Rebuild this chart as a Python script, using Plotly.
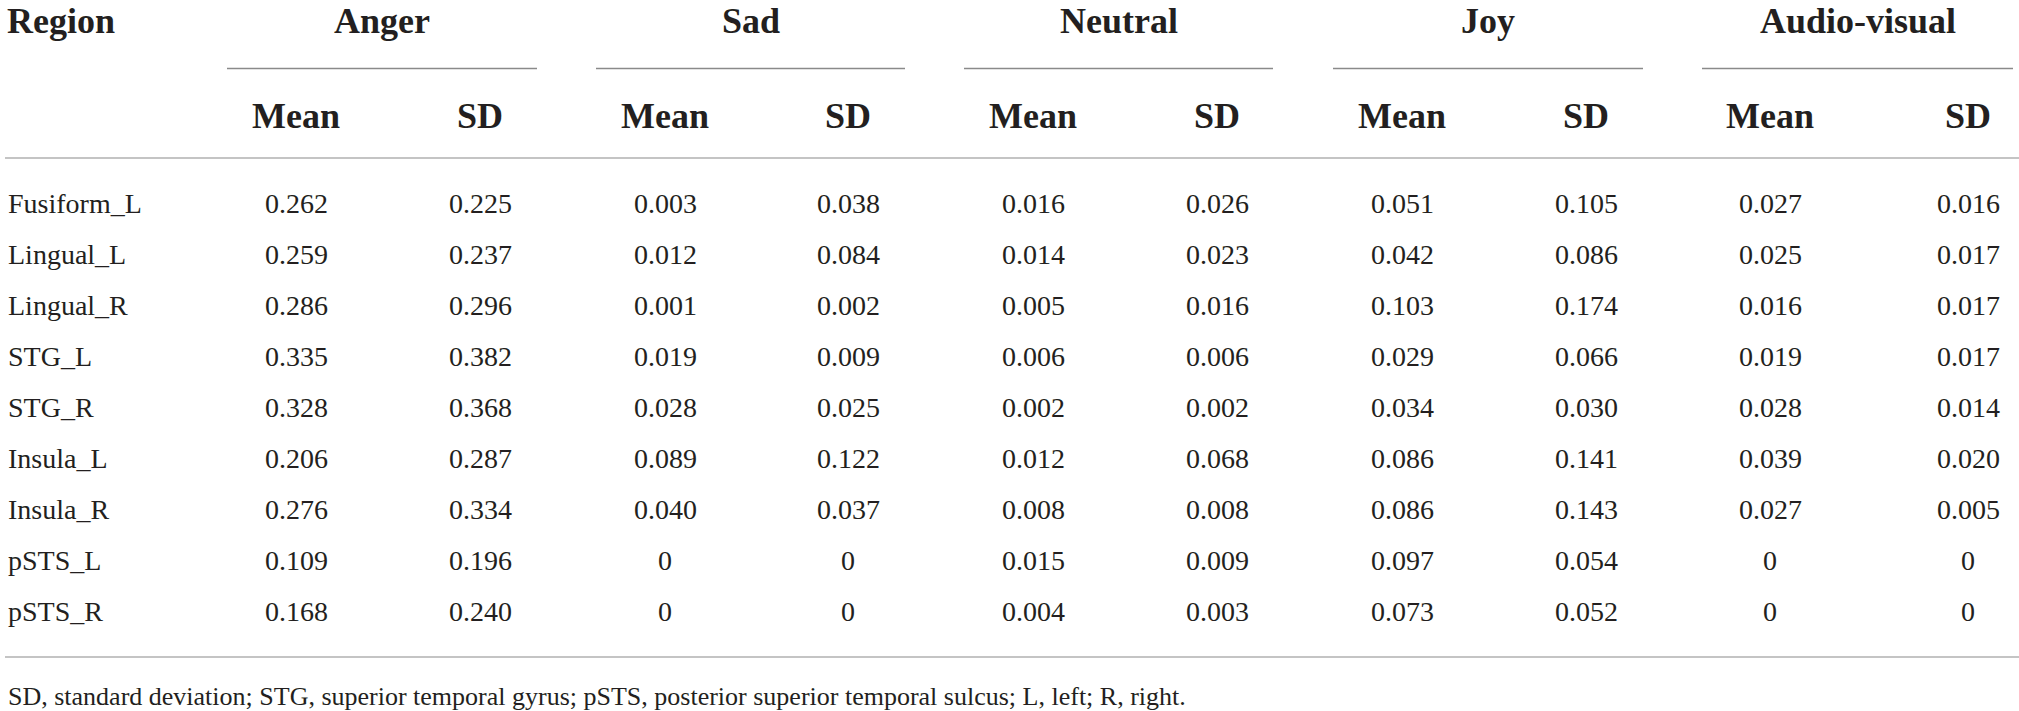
import plotly.graph_objects as go

# table content
regions = ["Fusiform_L", "Lingual_L", "Lingual_R", "STG_L", "STG_R",
           "Insula_L", "Insula_R", "pSTS_L", "pSTS_R"]
groups = ["Anger", "Sad", "Neutral", "Joy", "Audio-visual"]
subheads = ["Mean", "SD"]

anger_mean = [0.262, 0.259, 0.286, 0.335, 0.328, 0.206, 0.276, 0.109, 0.168]
anger_sd = [0.225, 0.237, 0.296, 0.382, 0.368, 0.287, 0.334, 0.196, 0.240]
sad_mean = [0.003, 0.012, 0.001, 0.019, 0.028, 0.089, 0.040, 0, 0]
sad_sd = [0.038, 0.084, 0.002, 0.009, 0.025, 0.122, 0.037, 0, 0]
neutral_mean = [0.016, 0.014, 0.005, 0.006, 0.002, 0.012, 0.008, 0.015, 0.004]
neutral_sd = [0.026, 0.023, 0.016, 0.006, 0.002, 0.068, 0.008, 0.009, 0.003]
joy_mean = [0.051, 0.042, 0.103, 0.029, 0.034, 0.086, 0.086, 0.097, 0.073]
joy_sd = [0.105, 0.086, 0.174, 0.066, 0.030, 0.141, 0.143, 0.054, 0.052]
av_mean = [0.027, 0.025, 0.016, 0.019, 0.028, 0.039, 0.027, 0, 0]
av_sd = [0.016, 0.017, 0.017, 0.017, 0.014, 0.020, 0.005, 0, 0]

footnote = ("SD, standard deviation; STG, superior temporal gyrus; "
            "pSTS, posterior superior temporal sulcus; L, left; R, right.")

columns = [(anger_mean, anger_sd), (sad_mean, sad_sd), (neutral_mean, neutral_sd),
           (joy_mean, joy_sd), (av_mean, av_sd)]

# layout (pixels)
W, H = 2019, 711
mean_x = [296, 665, 1033, 1402, 1770]
sd_x = [480, 848, 1217, 1586, 1968]
spans = [(227, 537), (596, 905), (964, 1273), (1333, 1643), (1702, 2013)]
y_group, y_grule, y_sub, y_hrule = 21, 68.5, 116, 158
y_row0, row_h = 203, 51
y_brule, y_foot = 657, 696

INK = "#231f20"
SERIF = "Liberation Serif"


def fmt(v):
    return "0" if v == 0 else f"{v:.3f}"


fig = go.Figure()
ann = []
shapes = []

hdr_font = dict(family=SERIF, size=36, color=INK)
body_font = dict(family=SERIF, size=28, color=INK)

ann.append(dict(x=5, y=y_group, text="<b>Region</b>", xanchor="left", font=hdr_font))
for g, (x0, x1), mx, sx in zip(groups, spans, mean_x, sd_x):
    ann.append(dict(x=(x0 + x1) / 2, y=y_group, text=f"<b>{g}</b>", font=hdr_font))
    shapes.append(dict(type="line", x0=x0, x1=x1, y0=y_grule, y1=y_grule,
                       line=dict(color="#8a8a8a", width=1.3)))
    ann.append(dict(x=mx, y=y_sub, text=f"<b>{subheads[0]}</b>", font=hdr_font))
    ann.append(dict(x=sx, y=y_sub, text=f"<b>{subheads[1]}</b>", font=hdr_font))

for i, r in enumerate(regions):
    y = y_row0 + i * row_h
    ann.append(dict(x=6, y=y, text=r, xanchor="left", font=body_font))
    for (means, sds), mx, sx in zip(columns, mean_x, sd_x):
        ann.append(dict(x=mx, y=y, text=fmt(means[i]), font=body_font))
        ann.append(dict(x=sx, y=y, text=fmt(sds[i]), font=body_font))

for y in (y_hrule, y_brule):
    shapes.append(dict(type="line", x0=5, x1=W, y0=y, y1=y,
                       line=dict(color="#c4c4c4", width=2)))

ann.append(dict(x=6, y=y_foot, text=footnote, xanchor="left",
                font=dict(family=SERIF, size=26, color=INK)))

for a in ann:
    a.update(xref="x", yref="y", showarrow=False)
    a.setdefault("xanchor", "center")
    a.setdefault("yanchor", "middle")

fig.update_layout(
    width=W, height=H,
    margin=dict(t=0, l=0, r=0, b=0),
    paper_bgcolor="white", plot_bgcolor="white",
    xaxis=dict(range=[0, W], visible=False, fixedrange=True),
    yaxis=dict(range=[H, 0], visible=False, fixedrange=True),
    annotations=ann, shapes=shapes,
    showlegend=False,
)

fig.write_html("out.html", config={"displayModeBar": False},
               post_script="document.body.style.margin='0';")
